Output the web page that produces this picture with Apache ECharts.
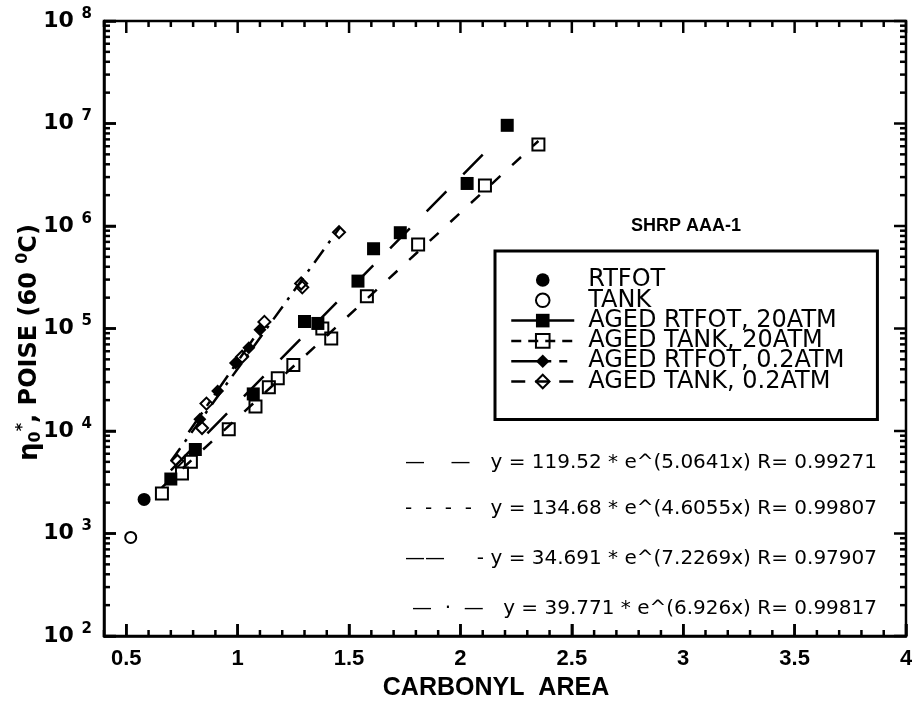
<!DOCTYPE html>
<html>
<head>
<meta charset="utf-8">
<script src="https://cdn.jsdelivr.net/npm/echarts@6/dist/echarts.min.js"></script>
<style>html,body{margin:0;padding:0;background:#fff;}#c{width:912px;height:702px;}</style>
</head>
<body>
<div id="c"></div>
<script>
// ---------- data ----------
const seriesNames = ['RTFOT', 'TANK', 'AGED RTFOT, 20ATM', 'AGED TANK, 20ATM', 'AGED RTFOT, 0.2ATM', 'AGED TANK, 0.2ATM'];
const rtfot = [[0.58, 2150]];
const tank = [[0.52, 915]];
const agedRtfot20 = [[0.70, 3400], [0.81, 6600], [1.07, 23000], [1.30, 117000], [1.36, 112000], [1.54, 290000], [1.61, 600000], [1.73, 860000], [2.03, 2600000], [2.21, 9600000]];
const agedTank20 = [[0.66, 2450], [0.75, 3850], [0.79, 5000], [0.96, 10400], [1.08, 17300], [1.14, 26700], [1.18, 32700], [1.25, 44000], [1.38, 100000], [1.42, 80000], [1.58, 206000], [1.81, 660000], [2.11, 2480000], [2.35, 6250000]];
const agedRtfot02 = [[0.83, 13000], [0.91, 24500], [0.99, 46000], [1.05, 65000], [1.10, 97000]];
const agedTank02 = [[0.73, 5100], [0.84, 10700], [0.86, 18500], [1.02, 53000], [1.12, 116000], [1.285, 275000], [1.29, 252000], [1.455, 870000]];
// fitted curves (end points of each fit line, from the printed equations)
const fitRtfot20 = [[0.70, 4140], [2.10, 4966000]];
const fitTank20 = [[0.66, 2815], [2.35, 6756000]];
const fitRtfot02 = [[0.78, 9735], [1.12, 113600]];
const fitTank02 = [[0.70, 5071], [1.46, 979800]];
const eqDash = ['\u2014    \u2014', '-  -  -  -', '\u2014\u2014     -', '\u2014  \u00b7  \u2014'];
const eqText = ['y = 119.52 * e^(5.0641x) R= 0.99271', 'y = 134.68 * e^(4.6055x) R= 0.99807', 'y = 34.691 * e^(7.2269x) R= 0.97907', 'y = 39.771 * e^(6.926x) R= 0.99817'];
const xRange = [0.4, 4];
const yRange = [1e2, 1e8];
const xTickValues = [0.5, 1, 1.5, 2, 2.5, 3, 3.5, 4];
const xTickLabels = ['0.5', '1', '1.5', '2', '2.5', '3', '3.5', '4'];
const xMinorValues = [0.4, 0.6, 0.7, 0.8, 0.9, 1.1, 1.2, 1.3, 1.4, 1.6, 1.7, 1.8, 1.9, 2.1, 2.2, 2.3, 2.4, 2.6, 2.7, 2.8, 2.9, 3.1, 3.2, 3.3, 3.4, 3.6, 3.7, 3.8, 3.9];
const yTickValues = [1e2, 1e3, 1e4, 1e5, 1e6, 1e7, 1e8];
const yTickExps = ['2', '3', '4', '5', '6', '7', '8'];
const yMinorMantissas = [2, 3, 4, 5, 6, 7, 8, 9];
const chartTitle = 'SHRP AAA-1';
const xTitle = 'CARBONYL  AREA';

// ---------- chart ----------
const BLACK = '#000';
const FONT = 'Liberation Sans, Arial, sans-serif';
const BFONT = 'DejaVu Sans';
const chart = echarts.init(document.getElementById('c'));

const yMinorValues = [];
yTickValues.slice(0, -1).forEach(d => yMinorMantissas.forEach(m => yMinorValues.push(m * d)));

function pointSeries(name, data, symbol, size, filled) {
  return {
    name: name, type: 'line', data: data,
    symbol: symbol, symbolSize: size, showSymbol: true, showAllSymbol: true,
    lineStyle: {color: BLACK, opacity: 0, width: 0},
    itemStyle: filled ? {color: BLACK, borderColor: BLACK, borderWidth: 0}
                      : {color: 'rgba(255,255,255,0)', borderColor: BLACK, borderWidth: 2},
    emphasis: {disabled: true}, z: 3
  };
}
function fitSeries(data, dash) {
  return {
    type: 'line', data: data, symbol: 'none',
    lineStyle: {color: BLACK, width: 2.5, type: dash},
    emphasis: {disabled: true}, silent: true, z: 4
  };
}
// inside ticks on one side of the frame, placed through the axes' own scales
function tickSeries(side, values, len) {
  const isX = side === 'bottom' || side === 'top';
  const data = values.map(v => isX ? [v, yRange[0]] : [xRange[0], v]);
  return {
    type: 'custom', data: data, z: 6, clip: false,
    encode: {x: 0, y: 1},
    renderItem: function (params, api) {
      let p, x2, y2;
      if (isX) {
        p = api.coord([api.value(0), side === 'bottom' ? yRange[0] : yRange[1]]);
        x2 = p[0]; y2 = side === 'bottom' ? p[1] - len : p[1] + len;
      } else {
        p = api.coord([side === 'left' ? xRange[0] : xRange[1], api.value(1)]);
        x2 = side === 'left' ? p[0] + len : p[0] - len; y2 = p[1];
      }
      return {type: 'line', shape: {x1: p[0], y1: p[1], x2: x2, y2: y2}, style: {stroke: BLACK, lineWidth: 2.5}};
    }
  };
}
const dashA = [28, 24], dashB = [12, 16], dashC = [24, 8, 5, 8], dashD = [16, 8, 3, 8];
const legendLine = (dash) => ({color: BLACK, width: 2.5, opacity: 1, type: dash});
const eqY = [463, 509, 559, 609];

const option = {
  animation: false,
  grid: {left: 104, right: 6, top: 21, bottom: 66, outerBoundsMode: 'none',
         show: true, borderColor: BLACK, borderWidth: 2.5},
  xAxis: {
    type: 'value', min: xRange[0], max: xRange[1],
    axisLine: {show: true, onZero: false, lineStyle: {color: BLACK, width: 2.5}},
    axisTick: {show: true, inside: true, length: 12, customValues: xTickValues, lineStyle: {color: BLACK, width: 2.5}},
    axisLabel: {
      show: true, customValues: xTickValues, margin: 12, color: BLACK,
      fontFamily: FONT, fontWeight: 'bold', fontSize: 22,
      formatter: v => { const i = xTickValues.findIndex(t => Math.abs(t - v) < 1e-9); return i >= 0 ? xTickLabels[i] : ''; }
    },
    splitLine: {show: false},
    name: xTitle, nameLocation: 'middle', nameGap: 40, nameMoveOverlap: false,
    nameTextStyle: {fontFamily: FONT, fontWeight: 'bold', fontSize: 25, color: BLACK, padding: [0, 18, 0, 0]}
  },
  yAxis: {
    type: 'log', logBase: 10, min: yRange[0], max: yRange[1],
    axisLine: {show: true, onZero: false, lineStyle: {color: BLACK, width: 2.5}},
    axisTick: {show: true, inside: true, length: 12, customValues: yTickValues, lineStyle: {color: BLACK, width: 2.5}},
    axisLabel: {
      show: true, customValues: yTickValues, margin: 12, color: BLACK,
      fontFamily: BFONT, fontWeight: 'bold', fontSize: 22,
      formatter: v => { const i = yTickValues.findIndex(t => Math.abs(t - v) / t < 1e-6); return i >= 0 ? '{b|10} {s|' + yTickExps[i] + '}' : ''; },
      rich: {
        b: {fontFamily: BFONT, fontWeight: 'bold', fontSize: 22, color: BLACK},
        s: {fontFamily: BFONT, fontWeight: 'bold', fontSize: 15, color: BLACK, padding: [0, 0, 14, 0]}
      }
    },
    splitLine: {show: false},
    name: '{g|\u03b7}{sub|0}{sup|*}{t|, POISE (60 }{sup|0}{t|C)}',
    nameLocation: 'middle', nameGap: 59, nameMoveOverlap: false,
    nameTextStyle: {
      color: BLACK, fontFamily: BFONT, fontWeight: 'bold', fontSize: 24, padding: [0, 28, 0, 0],
      rich: {
        g: {fontFamily: BFONT, fontSize: 26, color: BLACK},
        t: {fontFamily: BFONT, fontWeight: 'bold', fontSize: 24, color: BLACK},
        sub: {fontFamily: BFONT, fontWeight: 'bold', fontSize: 16, color: BLACK, padding: [12, 0, 0, 0]},
        sup: {fontFamily: BFONT, fontWeight: 'bold', fontSize: 16, color: BLACK, padding: [0, 0, 14, 0]}
      }
    }
  },
  legend: {
    orient: 'vertical', left: 495, top: 251,
    padding: [17, 33, 26, 15],
    itemWidth: 63, itemHeight: 17, itemGap: -3.7,
    borderColor: BLACK, borderWidth: 3, backgroundColor: '#fff',
    selectedMode: false,
    textStyle: {fontFamily: 'DejaVu Sans', fontSize: 24, color: BLACK, padding: [0, 0, 0, 9]},
    data: [
      {name: seriesNames[0], lineStyle: {opacity: 0}},
      {name: seriesNames[1], lineStyle: {opacity: 0}},
      {name: seriesNames[2], lineStyle: legendLine([18, 0])},
      {name: seriesNames[3], lineStyle: legendLine([10, 7])},
      {name: seriesNames[4], lineStyle: legendLine([40, 8, 8, 20])},
      {name: seriesNames[5], lineStyle: legendLine([14, 10])}
    ]
  },
  graphic: [
    {type: 'text', x: 686, y: 226, z: 10, style: {text: chartTitle, font: 'bold 18px ' + FONT, fill: BLACK, align: 'center', verticalAlign: 'middle', textAlign: 'center', textVerticalAlign: 'middle'}}
  ].concat(eqText.map((t, i) => ({
    type: 'text', x: 877, y: eqY[i], z: 10,
    style: {text: t, font: '20px DejaVu Sans', fill: BLACK, align: 'right', verticalAlign: 'middle', textAlign: 'right', textVerticalAlign: 'middle'}
  }))).concat(eqDash.map((t, i) => ({
    type: 'text', x: [405, 405, 405, 412][i], y: eqY[i], z: 10,
    style: {text: t, font: '20px DejaVu Sans', fill: BLACK, align: 'left', verticalAlign: 'middle', textAlign: 'left', textVerticalAlign: 'middle'}
  }))),
  series: [
    tickSeries('bottom', xTickValues, 12),
    tickSeries('top', xTickValues, 12),
    tickSeries('bottom', xMinorValues, 6),
    tickSeries('top', xMinorValues, 6),
    tickSeries('left', yTickValues, 12),
    tickSeries('right', yTickValues, 12),
    tickSeries('left', yMinorValues, 6),
    tickSeries('right', yMinorValues, 6),
    fitSeries(fitRtfot20, dashA),
    fitSeries(fitTank20, dashB),
    fitSeries(fitRtfot02, dashC),
    fitSeries(fitTank02, dashD),
    pointSeries(seriesNames[0], rtfot, 'circle', 13, true),
    pointSeries(seriesNames[1], tank, 'circle', 11, false),
    pointSeries(seriesNames[2], agedRtfot20, 'rect', 13, true),
    pointSeries(seriesNames[3], agedTank20, 'rect', 12, false),
    pointSeries(seriesNames[4], agedRtfot02, 'diamond', 13, true),
    pointSeries(seriesNames[5], agedTank02, 'diamond', 12, false)
  ]
};
chart.setOption(option);
</script>
</body>
</html>
